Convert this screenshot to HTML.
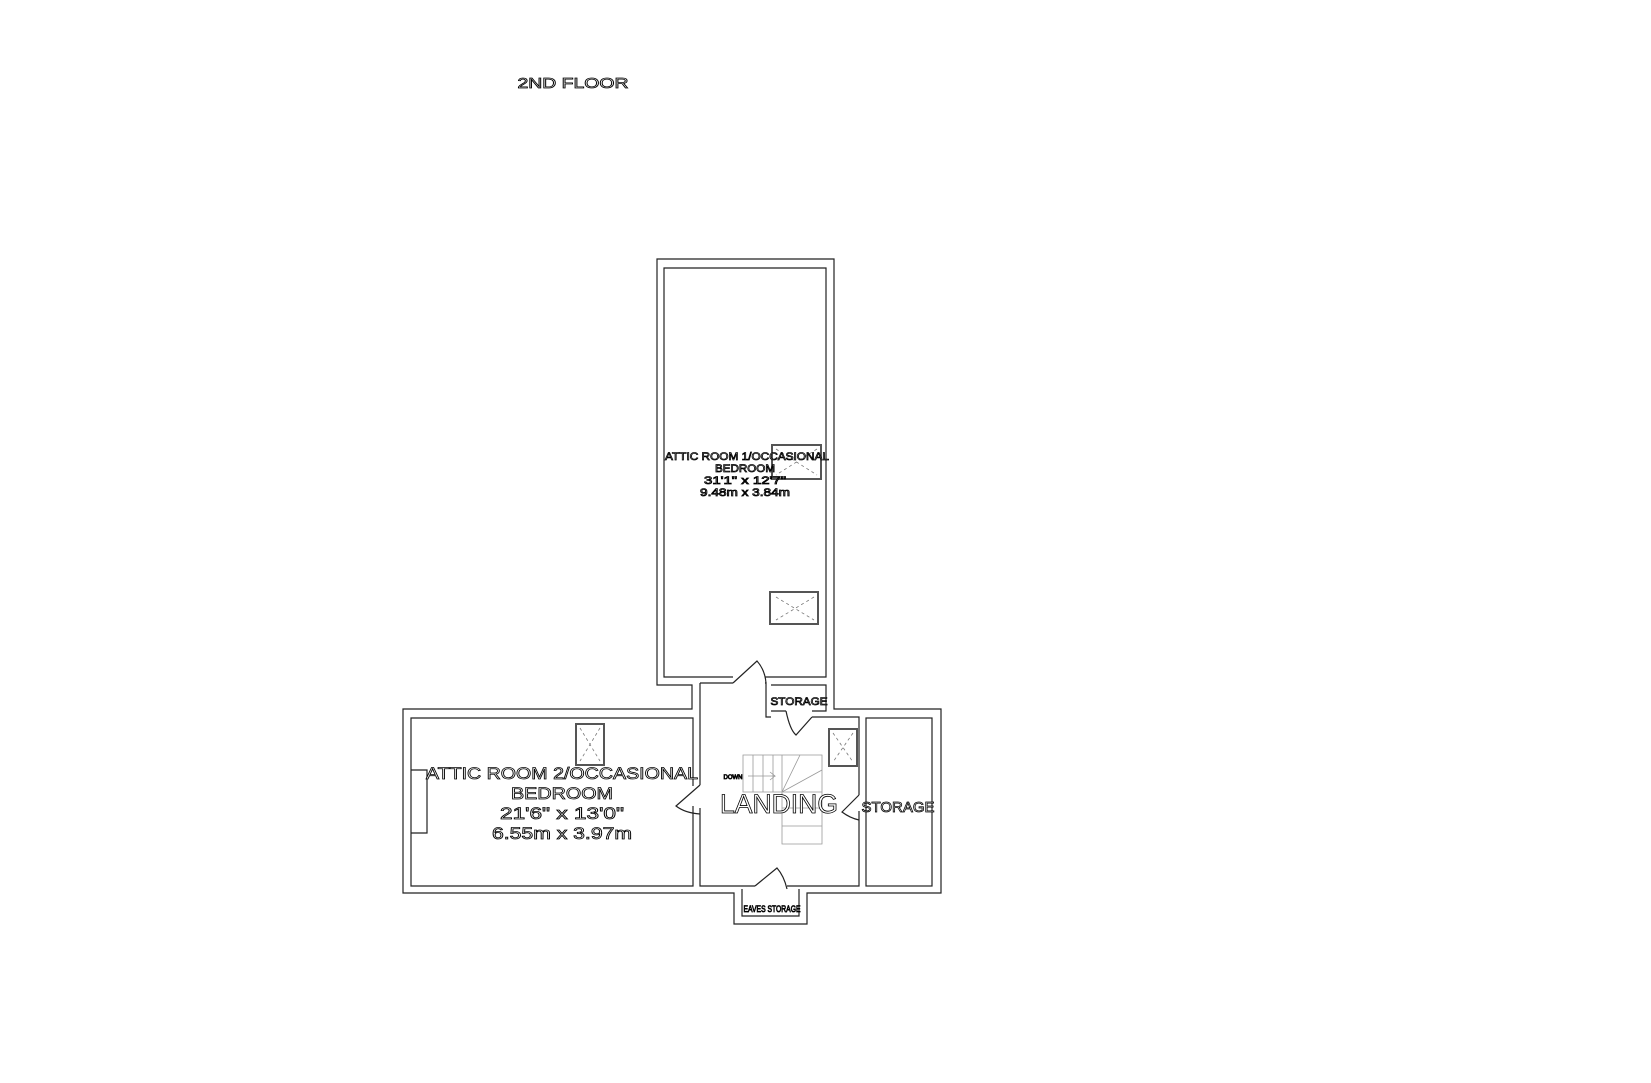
<!DOCTYPE html>
<html><head><style>
html,body{margin:0;padding:0;background:#fff;}
svg{display:block;}
text{font-family:"Liberation Sans",sans-serif;fill:#fff;stroke:#000;stroke-width:0.8;text-anchor:middle;}
</style></head><body>
<svg width="1651" height="1083" viewBox="0 0 1651 1083" xmlns="http://www.w3.org/2000/svg">
<g fill="none" stroke="#222" stroke-width="1.2">
<path d="M657,259 H834 V709 H941 V893 H807 V924 H734 V893 H403 V709 H692 V685 H657 Z"/>
<path d="M733,677 H664 V268 H826 V677 H765"/>
<path d="M700,683 H733 M765,683 H766 V717 H771 M812,717 H859 V795 M859,811 V886 H787 M755,886 H700 V808 M700,785 V683"/>
<path d="M771,685 H826 V711 H812 M786,711 H771 Z"/>
<rect x="866" y="718" width="66" height="168"/>
<path d="M693,786 V718 H411 V886 H693 V806"/>
<path d="M411,770 H427 V833 H411"/>
<path d="M742,889 V916 H799 V889"/>
<path d="M733,683 L757,661 Q765,670 766,683"/>
<path d="M786,711 Q790,730 796,735 L812,717"/>
<path d="M700,785 L676,806 Q685,813 700,814"/>
<path d="M859,795 L842,812 Q850,818 859,820"/>
<path d="M755,886 L777,868 Q784,876 787,889"/>
</g>
<g fill="none" stroke="#999" stroke-width="0.8">
<path d="M743,755 H822 V844 H782 V792 H743 Z"/>
<path d="M753,755 V792 M763,755 V792 M773,755 V792 M782,755 V792 M782,792 L800,755 M782,792 L822,770 M782,792 L822,792 M782,808 H822 M782,826 H822"/>
<path d="M748,776 H775 L770,772 M775,776 L770,780"/>
</g>
<g fill="#fff" stroke="#555" stroke-width="2">
<rect x="576" y="724" width="28" height="41"/>
<rect x="772" y="445" width="49" height="34"/>
<rect x="770" y="592" width="48" height="32"/>
<rect x="829" y="729" width="28" height="37"/>
</g>
<g stroke="#777" stroke-width="0.8" stroke-dasharray="3,3">
<path d="M580,728 L600,761 M600,728 L580,761"/>
<path d="M776,597 L814,620 M814,597 L776,620"/>
<path d="M833,733 L853,762 M853,733 L833,762"/>
<path d="M776,449 L817,475 M817,449 L776,475"/>
</g>
<g>
<text x="573" y="88" font-size="15" textLength="111" lengthAdjust="spacingAndGlyphs">2ND FLOOR</text>
<text x="747" y="460" font-size="11" textLength="164" lengthAdjust="spacingAndGlyphs">ATTIC ROOM 1/OCCASIONAL</text>
<text x="745" y="472" font-size="11" textLength="60" lengthAdjust="spacingAndGlyphs">BEDROOM</text>
<text x="745" y="484" font-size="11" textLength="82" lengthAdjust="spacingAndGlyphs">31'1"  x 12'7"</text>
<text x="745" y="496" font-size="11" textLength="90" lengthAdjust="spacingAndGlyphs">9.48m  x 3.84m</text>
<text x="562" y="779" font-size="17" textLength="272" lengthAdjust="spacingAndGlyphs">ATTIC ROOM 2/OCCASIONAL</text>
<text x="562" y="799" font-size="17" textLength="102" lengthAdjust="spacingAndGlyphs">BEDROOM</text>
<text x="562" y="819" font-size="17" textLength="124" lengthAdjust="spacingAndGlyphs">21'6"  x 13'0"</text>
<text x="562" y="839" font-size="17" textLength="140" lengthAdjust="spacingAndGlyphs">6.55m  x 3.97m</text>
<text x="779" y="813" font-size="27" textLength="118" lengthAdjust="spacingAndGlyphs">LANDING</text>
<text x="898" y="812" font-size="15" textLength="73" lengthAdjust="spacingAndGlyphs">STORAGE</text>
<text x="799" y="705" font-size="11" textLength="57" lengthAdjust="spacingAndGlyphs">STORAGE</text>
<text x="772" y="912" font-size="9" textLength="57" lengthAdjust="spacingAndGlyphs">EAVES STORAGE</text>
<text x="733" y="779" font-size="6">DOWN</text>
</g>
</svg>
</body></html>
